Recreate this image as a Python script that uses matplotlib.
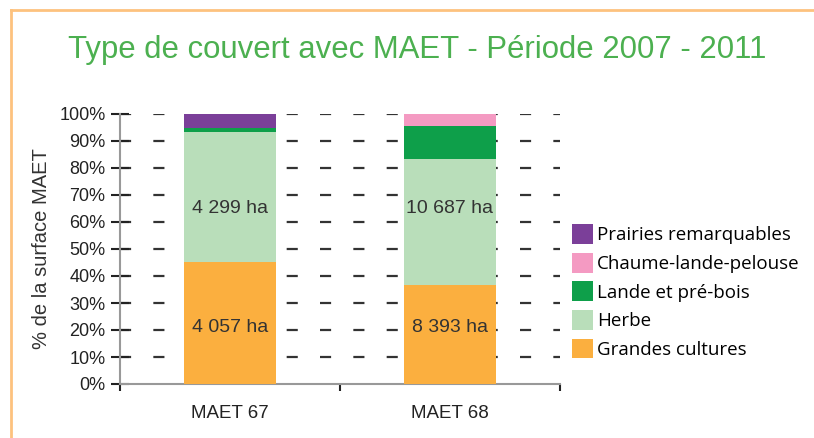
import numpy as np
import matplotlib.pyplot as plt
from matplotlib.lines import Line2D

plt.rcParams['font.family'] = ['Liberation Sans', 'DejaVu Sans']
plt.rcParams['lines.scale_dashes'] = False

# data (% of MAET surface)
categories = ['MAET 67', 'MAET 68']
series_names = ['Grandes cultures', 'Herbe', 'Lande et pré-bois',
                'Chaume-lande-pelouse', 'Prairies remarquables']
grandes_cultures = [45.3, 36.7]
herbe = [48.0, 46.7]
lande = [1.5, 12.3]
chaume = [0.0, 4.4]
prairies = [5.2, 0.0]
labels_grandes = ['4 057 ha', '8 393 ha']
labels_herbe = ['4 299 ha', '10 687 ha']
yticks = [0, 10, 20, 30, 40, 50, 60, 70, 80, 90, 100]

colors = ['#FBAF3F', '#B9DEBA', '#0E9F4A', '#F49AC2', '#7B3F99']
label_y = [21, 65]  # where the ha labels sit (set by hand in the original)

fig = plt.figure(figsize=(8.14, 4.38), dpi=100)
ax = fig.add_axes([120/814, 1-384/438, 440/814, 270/438])

x = np.arange(len(categories)) + 0.5
values = [grandes_cultures, herbe, lande, chaume, prairies]
bottom = np.zeros(len(categories))
handles = []
for vals, name, c in zip(values, series_names, colors):
    b = ax.bar(x, vals, width=0.42, bottom=bottom, color=c, label=name, zorder=3)
    handles.append(b)
    bottom += np.array(vals)

# segment labels
for i in range(len(categories)):
    ax.text(x[i], label_y[0], labels_grandes[i], ha='center', va='center',
            fontsize=14, color='#333333', zorder=4)
    ax.text(x[i], label_y[1], labels_herbe[i], ha='center', va='center',
            fontsize=14, color='#333333', zorder=4)

ax.set_xlim(0, 2)
ax.set_ylim(0, 100)
ax.set_yticks(yticks)
ax.set_yticklabels([f'{t}%' for t in yticks], fontsize=13, color='#222222')
ax.set_xticks([0, 1, 2])
ax.set_xticklabels([])
ax.set_xticks(x, minor=True)
ax.set_xticklabels(categories, minor=True, fontsize=13.5, color='#222222')
ax.tick_params(axis='x', which='minor', length=0, pad=15)
ax.tick_params(axis='x', which='major', direction='out', length=5, width=1.5, color='#222222')
ax.tick_params(axis='y', direction='inout', length=13, width=1.5, color='#222222', pad=4)

# dashed grid lines (none at 0)
ax.hlines(yticks[1:], 0, 2, linestyles=[(0, (8, 16))], colors='#333333',
          linewidth=1.6, zorder=1)

for s in ['top', 'right']:
    ax.spines[s].set_visible(False)
ax.spines['left'].set_color('#999999')
ax.spines['bottom'].set_color('#999999')
ax.spines['left'].set_linewidth(1.5)
ax.spines['bottom'].set_linewidth(1.5)

ax.set_ylabel('% de la surface MAET', fontsize=14.5, color='#333333', labelpad=6)

fig.text(417/814, 1-50/438, 'Type de couvert avec MAET - Période 2007 - 2011',
         ha='center', va='center', fontsize=22.4, color='#4CB050')

leg = fig.legend(handles[::-1], series_names[::-1], loc='upper left',
                 bbox_to_anchor=(563/814, 1-215/438), frameon=False,
                 prop={'family': 'Open Sans', 'size': 13.5}, handlelength=1.12,
                 handleheight=1.23, handletextpad=0.2, labelspacing=0.45, borderpad=0)

# orange frame
fig.add_artist(Line2D([11/814, 1], [1-10/438, 1-10/438], color='#FDC27E', lw=2,
                      transform=fig.transFigure))
fig.add_artist(Line2D([11/814, 11/814], [0, 1-10/438], color='#FDC27E', lw=2,
                      transform=fig.transFigure))

fig.savefig('out.png', dpi=100)
